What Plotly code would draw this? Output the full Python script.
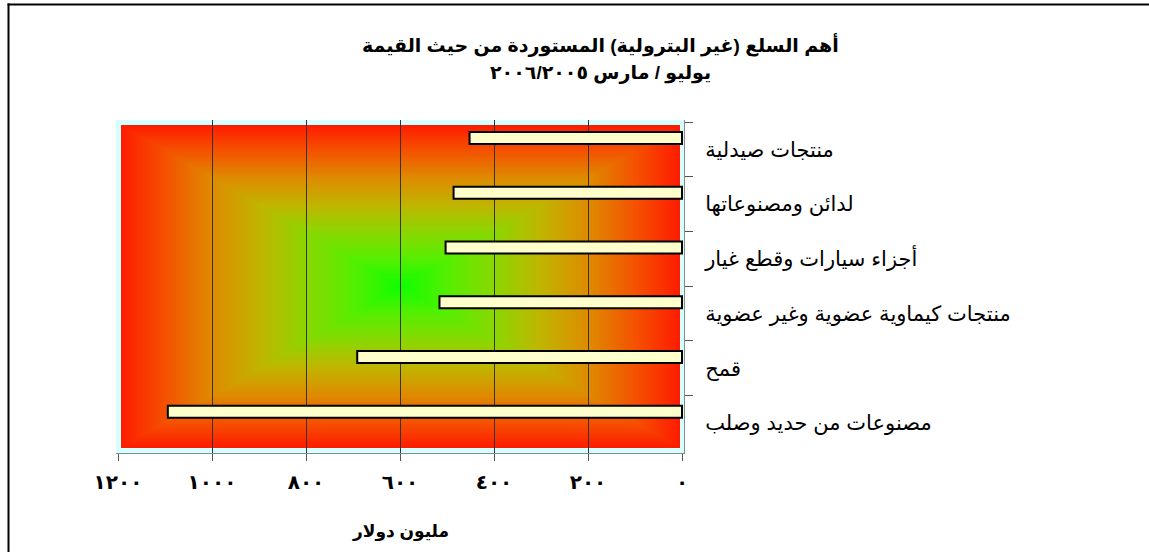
import base64
import struct
import zlib

import numpy as np
import plotly.graph_objects as go

# ---- data -------------------------------------------------------------
categories = [
    "منتجات صيدلية",
    "لدائن ومصنوعاتها",
    "أجزاء سيارات وقطع غيار",
    "منتجات كيماوية عضوية وغير عضوية",
    "قمح",
    "مصنوعات من حديد وصلب",
]
values = [452, 486, 503, 516, 691, 1094]  # million dollars

tick_values = [0, 200, 400, 600, 800, 1000, 1200]
tick_labels = ["٠", "٢٠٠", "٤٠٠", "٦٠٠", "٨٠٠", "١٠٠٠", "١٢٠٠"]
grid_values = [200, 400, 600, 800, 1000]

title_line1 = "أهم السلع (غير البترولية) المستوردة من حيث القيمة"
title_line2 = "يوليو / مارس ٢٠٠٦/٢٠٠٥"
x_title = "مليون دولار"

# ---- page geometry (pixels) -------------------------------------------
W, H = 1149, 552
L, R, T, B = 116, 684, 120, 453          # plot area box
PW, PH = R - L, B - T
FONT = "Arial, 'Liberation Sans', 'DejaVu Sans', sans-serif"


def px_x(px):
    return (px - L) / PW


def px_y(py):
    return 1 - (py - T) / PH


# ---- background: rectangular path gradient, green centre to red edges --
def png_uri(rgb):
    h, w, _ = rgb.shape
    raw = b"".join(b"\x00" + rgb[i].tobytes() for i in range(h))

    def chunk(tag, data):
        c = struct.pack(">I", len(data)) + tag + data
        return c + struct.pack(">I", zlib.crc32(tag + data) & 0xFFFFFFFF)

    png = (b"\x89PNG\r\n\x1a\n"
           + chunk(b"IHDR", struct.pack(">IIBBBBB", w, h, 8, 2, 0, 0, 0))
           + chunk(b"IDAT", zlib.compress(raw, 9))
           + chunk(b"IEND", b""))
    return "data:image/png;base64," + base64.b64encode(png).decode()


gx0, gx1, gy0, gy1 = 121, 680, 125, 448
gw, gh = gx1 - gx0, gy1 - gy0
u = np.abs((np.arange(gw) + 0.5) / gw * 2 - 1)[None, :]
v = np.abs((np.arange(gh) + 0.5) / gh * 2 - 1)[:, None]
t = 1 - np.maximum(u, v)                 # 0 at the border, 1 in the centre
stops = [0, 0.16, 0.33, 0.5, 0.66, 0.82, 1.0]
reds = [255, 245, 222, 192, 140, 90, 15]
greens = [28, 82, 140, 182, 215, 238, 255]
img = np.zeros((gh, gw, 3), dtype=np.uint8)
img[..., 0] = np.interp(t, stops, reds).astype(np.uint8)
img[..., 1] = np.interp(t, stops, greens).astype(np.uint8)

# ---- figure -----------------------------------------------------------
fig = go.Figure(
    go.Bar(
        x=values,
        y=categories,
        orientation="h",
        offset=-0.318,
        width=0.22,
        marker=dict(color="#ffffcc", line=dict(color="black", width=2)),
        hoverinfo="x+y",
    )
)

band = (450.4 - 122) / 6
x_scale = (682 - 118) / 1200
x_range = [1200 + (118 - L) / x_scale, -(R - 682) / x_scale]

# chart frame: thin filled strips along the top and left page edges
shapes = [
    dict(type="rect", xref="paper", yref="paper",
         x0=px_x(7.5), x1=px_x(W), y0=px_y(5.5), y1=px_y(3.5),
         fillcolor="black", line=dict(width=0), layer="above"),
    dict(type="rect", xref="paper", yref="paper",
         x0=px_x(7.5), x1=px_x(9.5), y0=px_y(H), y1=px_y(3.5),
         fillcolor="black", line=dict(width=0), layer="above"),
]

fig.update_layout(
    width=W,
    height=H,
    margin=dict(l=L, r=W - R, t=T, b=H - B, pad=0),
    paper_bgcolor="white",
    plot_bgcolor="#d6ffff",
    showlegend=False,
    font=dict(family=FONT, color="black"),
    xaxis=dict(
        range=x_range,
        tickvals=tick_values,
        ticktext=tick_labels,
        tickfont=dict(size=20, family=FONT, weight="bold"),
        ticks="outside",
        ticklen=7,
        tickcolor="#555555",
        ticklabelstandoff=4,
        showline=True,
        linecolor="#7f8f8f",
        linewidth=1,
        showgrid=False,
        zeroline=False,
        # inner gridlines only
        minor=dict(tickvals=grid_values, showgrid=True, gridcolor="#333333",
                   gridwidth=1, ticks=""),
    ),
    yaxis=dict(
        type="category",
        categoryorder="array",
        categoryarray=categories,
        range=[5.5 + (B - 450.4) / band, -0.5 - (122 - T) / band],
        side="right",
        tickfont=dict(size=21, family=FONT),
        ticks="outside",
        tickson="boundaries",
        ticklen=8,
        tickcolor="#555555",
        ticklabelstandoff=16,
        showline=True,
        linecolor="#7f8f8f",
        linewidth=1,
        showgrid=False,
        zeroline=False,
    ),
    images=[dict(
        source=png_uri(img),
        xref="x domain", yref="y domain",
        x=(gx0 - L) / PW, y=1 - (gy0 - T) / PH,
        sizex=gw / PW, sizey=gh / PH,
        xanchor="left", yanchor="top",
        sizing="stretch", layer="below",
    )],
    shapes=shapes,
    annotations=[
        dict(text="<b>%s</b>" % title_line1, x=px_x(600), y=px_y(45),
             xref="paper", yref="paper", showarrow=False,
             xanchor="center", yanchor="middle", font=dict(size=19)),
        dict(text="<b>%s</b>" % title_line2, x=px_x(600), y=px_y(73),
             xref="paper", yref="paper", showarrow=False,
             xanchor="center", yanchor="middle", font=dict(size=19)),
        dict(text="<b>%s</b>" % x_title, x=px_x(400), y=px_y(532),
             xref="paper", yref="paper", showarrow=False,
             xanchor="center", yanchor="middle", font=dict(size=17)),
    ],
)

fig.write_html("out.html")
